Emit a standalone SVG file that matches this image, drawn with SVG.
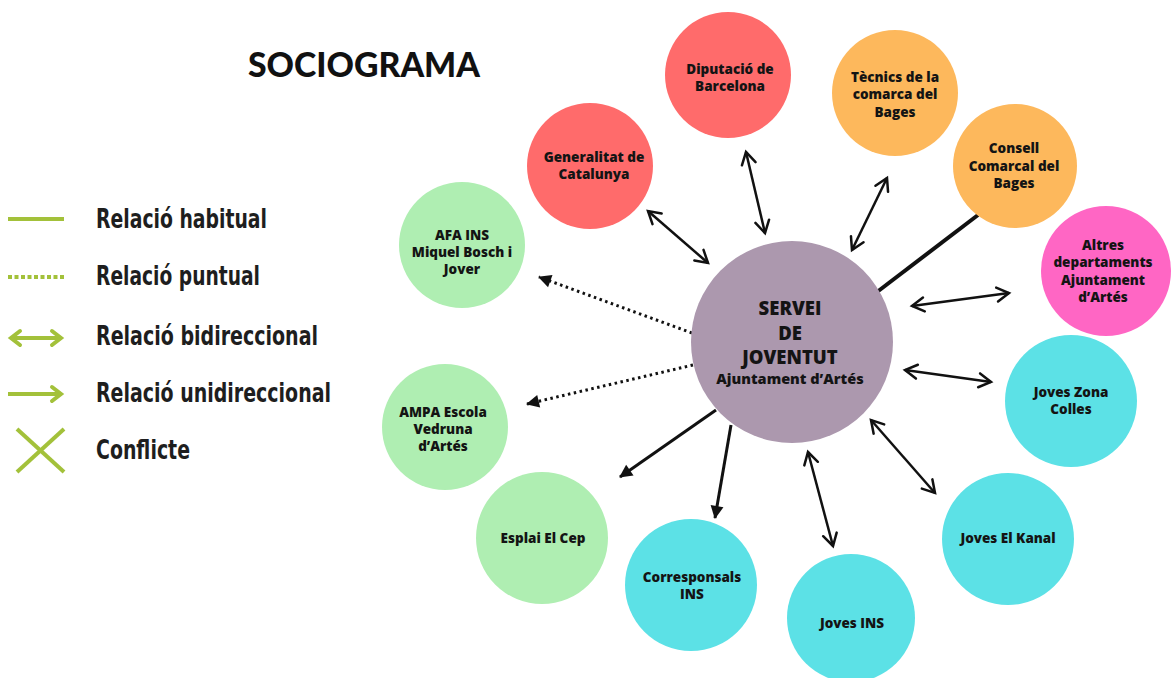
<svg xmlns="http://www.w3.org/2000/svg" width="1172" height="678" viewBox="0 0 1172 678">
<style>
.t{font-family:"Open Sans","DejaVu Sans",sans-serif;font-weight:800;font-size:13.5px;fill:#141414;text-anchor:middle}
.c18{font-size:18.5px}
.c14{font-size:14.5px}
.lg{font-family:"DejaVu Sans Condensed","DejaVu Sans",sans-serif;font-weight:bold;font-size:26px;fill:#1e1e1e}
.red{fill:#FF6B6B}.org{fill:#FDB85C}.mag{fill:#FF66C4}.cyn{fill:#5CE1E6}.grn{fill:#AFEEB2}.pur{fill:#AC98AE}
.bi{stroke:#111;stroke-width:2.5;fill:none;marker-start:url(#chev);marker-end:url(#chev)}
.uni{stroke:#111;stroke-width:3;fill:none;marker-end:url(#tri)}
.dot{stroke:#111;stroke-width:3;fill:none;stroke-dasharray:2.5 3.5;marker-end:url(#tri)}
.lgl{stroke:#A3C13A;stroke-width:4;fill:none}
</style>
<defs>
<marker id="chev" markerUnits="userSpaceOnUse" viewBox="-16 -10 20 20" refX="0" refY="0" markerWidth="20" markerHeight="20" orient="auto-start-reverse">
<path d="M-12,-7 L0,0 L-12,7" fill="none" stroke="#111" stroke-width="2.5" stroke-linecap="round" stroke-linejoin="miter"/>
</marker>
<marker id="tri" markerUnits="userSpaceOnUse" viewBox="-16 -10 20 20" refX="0" refY="0" markerWidth="20" markerHeight="20" orient="auto">
<path d="M-12,-6.5 L1,0 L-12,6.5 Z" fill="#111"/>
</marker>
<marker id="gchev" markerUnits="userSpaceOnUse" viewBox="-16 -10 20 20" refX="0" refY="0" markerWidth="20" markerHeight="20" orient="auto-start-reverse">
<path d="M-9,-7 L0,0 L-9,7" fill="none" stroke="#A3C13A" stroke-width="4" stroke-linecap="round"/>
</marker>
</defs>
<rect width="1172" height="678" fill="#ffffff"/>

<text x="248" y="77" font-family="Lato,'Open Sans',sans-serif" font-weight="900" font-size="34" fill="#111" textLength="232" lengthAdjust="spacingAndGlyphs">SOCIOGRAMA</text>

<g id="legend">
<line class="lgl" x1="8" y1="219" x2="64" y2="219"/>
<line class="lgl" x1="8" y1="277" x2="64" y2="277" stroke-dasharray="4 2.5"/>
<line class="lgl" x1="11" y1="338" x2="61" y2="338" marker-start="url(#gchev)" marker-end="url(#gchev)"/>
<line class="lgl" x1="8" y1="394" x2="61" y2="394" marker-end="url(#gchev)"/>
<line class="lgl" x1="17" y1="429" x2="64" y2="472" stroke-width="3"/>
<line class="lgl" x1="64" y1="429" x2="17" y2="472" stroke-width="3"/>
<text class="lg" x="96" y="228" textLength="171" lengthAdjust="spacingAndGlyphs">Relació habitual</text>
<text class="lg" x="96" y="285" textLength="164" lengthAdjust="spacingAndGlyphs">Relació puntual</text>
<text class="lg" x="96" y="345" textLength="222" lengthAdjust="spacingAndGlyphs">Relació bidireccional</text>
<text class="lg" x="96" y="402" textLength="235" lengthAdjust="spacingAndGlyphs">Relació unidireccional</text>
<text class="lg" x="96" y="459" textLength="94" lengthAdjust="spacingAndGlyphs">Conflicte</text>
</g>

<g id="connectors">
<line class="bi" x1="648" y1="211" x2="708" y2="263"/>
<line class="bi" x1="746" y1="152" x2="765" y2="233"/>
<line class="bi" x1="887" y1="178" x2="852" y2="250"/>
<line x1="978" y1="215" x2="877" y2="292" stroke="#111" stroke-width="4"/>
<line class="bi" x1="912" y1="306" x2="1009" y2="293"/>
<line class="bi" x1="905" y1="370" x2="991" y2="382"/>
<line class="bi" x1="871" y1="420" x2="935" y2="493"/>
<line class="bi" x1="808" y1="452" x2="833" y2="546"/>
<line class="uni" x1="731" y1="425" x2="715" y2="518"/>
<line class="uni" x1="716" y1="410" x2="620" y2="477"/>
<line class="dot" x1="693" y1="365" x2="527" y2="404"/>
<line class="dot" x1="692" y1="333" x2="539" y2="277"/>
</g>

<g id="center"><circle class="pur" cx="792" cy="342" r="101"/>
<text class="t c18" x="790" y="315">SERVEI</text>
<text class="t c18" x="790" y="340">DE</text>
<text class="t c18" x="790" y="364">JOVENTUT</text>
<text class="t c14" x="790" y="384">Ajuntament d’Artés</text></g>

<g id="diputacio"><circle class="red" cx="728" cy="75" r="63"/>
<text class="t" x="730" y="74">Diputació de</text><text class="t" x="730" y="91">Barcelona</text></g>

<g id="tecnics"><circle class="org" cx="895" cy="93" r="63"/>
<text class="t" x="895" y="82">Tècnics de la</text><text class="t" x="895" y="99">comarca del</text><text class="t" x="895" y="117">Bages</text></g>

<g id="consell"><circle class="org" cx="1015" cy="166" r="62"/>
<text class="t" x="1014" y="153">Consell</text><text class="t" x="1014" y="171">Comarcal del</text><text class="t" x="1014" y="188">Bages</text></g>

<g id="altres"><circle class="mag" cx="1106" cy="271" r="65"/>
<text class="t" x="1103" y="250">Altres</text><text class="t" x="1103" y="267">departaments</text><text class="t" x="1103" y="285">Ajuntament</text><text class="t" x="1103" y="302">d’Artés</text></g>

<g id="generalitat"><circle class="red" cx="590" cy="166" r="63"/>
<text class="t" x="594" y="162">Generalitat de</text><text class="t" x="594" y="179">Catalunya</text></g>

<g id="afa"><circle class="grn" cx="462" cy="245" r="63"/>
<text class="t" x="462" y="240">AFA INS</text><text class="t" x="462" y="257">Miquel Bosch i</text><text class="t" x="462" y="274">Jover</text></g>

<g id="ampa"><circle class="grn" cx="445" cy="427" r="63"/>
<text class="t" x="443" y="417">AMPA Escola</text><text class="t" x="443" y="434">Vedruna</text><text class="t" x="443" y="451">d’Artés</text></g>

<g id="esplai"><circle class="grn" cx="542" cy="538" r="66"/>
<text class="t" x="543" y="543">Esplai El Cep</text></g>

<g id="corresponsals"><circle class="cyn" cx="691" cy="585" r="66"/>
<text class="t" x="692" y="582">Corresponsals</text><text class="t" x="692" y="599">INS</text></g>

<g id="jovesins"><circle class="cyn" cx="851" cy="618" r="64"/>
<text class="t" x="852" y="628">Joves INS</text></g>

<g id="kanal"><circle class="cyn" cx="1008" cy="539" r="66"/>
<text class="t" x="1008" y="543">Joves El Kanal</text></g>

<g id="colles"><circle class="cyn" cx="1071" cy="401" r="66"/>
<text class="t" x="1071" y="397">Joves Zona</text><text class="t" x="1071" y="414">Colles</text></g>
</svg>
